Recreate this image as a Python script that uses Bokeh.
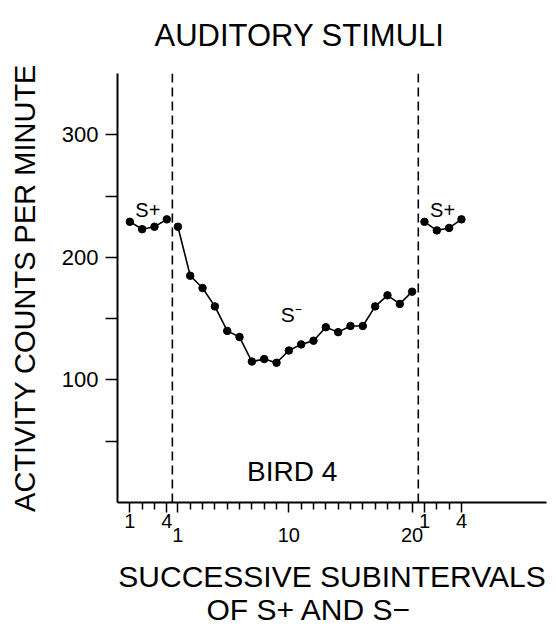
from bokeh.plotting import figure
from bokeh.models import Range1d, FixedTicker, LinearAxis, Title, Span
from bokeh.core.properties import value
from bokeh.embed import file_html
from bokeh.resources import INLINE

FONT = "Liberation Sans"

# ---- data ----
splus_before = [229, 223, 225, 231]
sminus = [225, 185, 175, 160, 140, 135, 115, 117, 114, 124,
          129, 132, 143, 139, 144, 144, 160, 169, 162, 172]
splus_after = [229, 222, 224, 231]
y_major = [100, 200, 300]
y_minor = [50, 150, 250]
splus_labeled = [1, 4]
sminus_labeled = [1, 10, 20]

# ---- layout of the subinterval positions ----
STEP = 10
def positions(start, n):
    return [start + STEP * i for i in range(n)]

x_before = positions(10, len(splus_before))
x_sminus = positions(49, len(sminus))
x_after = positions(249, len(splus_after))
dash_1 = 44.5
dash_2 = 244

p = figure(width=552, height=631, output_backend="svg", toolbar_location=None,
           x_range=Range1d(0, 348), y_range=Range1d(0, 350),
           title=None,
           min_border_left=117, min_border_right=6, min_border_top=73,
           min_border_bottom=129)
p.outline_line_color = None
p.grid.visible = False
p.background_fill_color = "white"
p.border_fill_color = "white"

# spacer between frame and title, then the title itself
spacer = Title(text=" ", text_font_size="1px", standoff=18)
p.add_layout(spacer, "above")
main_title = Title(text="AUDITORY STIMULI", align="left", offset=37,
                   text_font=FONT, text_font_size="31px",
                   text_font_style="normal", text_color="black", standoff=0)
p.add_layout(main_title, "above")

# y axis
ya = p.yaxis[0]
ya.ticker = FixedTicker(ticks=y_major, minor_ticks=y_minor)
ya.axis_line_width = 2
ya.major_tick_out = 12
ya.major_tick_in = 0
ya.minor_tick_out = 12
ya.minor_tick_in = 0
ya.major_tick_line_width = 1.5
ya.minor_tick_line_width = 1.5
ya.major_label_text_font = FONT
ya.major_label_text_font_size = "22px"
ya.major_label_text_color = "black"
ya.major_label_standoff = 7
ya.axis_label = "ACTIVITY COUNTS PER MINUTE"
ya.axis_label_text_font = FONT
ya.axis_label_text_font_size = "29px"
ya.axis_label_text_font_style = "normal"
ya.axis_label_text_color = "black"
ya.axis_label_standoff = 18

# x axis A: all ticks, S+ labels
labeled_pos = ([x_before[k - 1] for k in splus_labeled] +
               [x_sminus[k - 1] for k in sminus_labeled] +
               [x_after[k - 1] for k in splus_labeled])
all_pos = x_before + x_sminus + x_after
minor_pos = [x for x in all_pos if x not in labeled_pos]
overrides_a = {x: "" for x in labeled_pos}
for k in splus_labeled:
    overrides_a[x_before[k - 1]] = str(k)
    overrides_a[x_after[k - 1]] = str(k)

xa = p.xaxis[0]
xa.ticker = FixedTicker(ticks=labeled_pos, minor_ticks=minor_pos)
xa.major_label_overrides = overrides_a
xa.axis_line_width = 2
xa.major_tick_out = 10
xa.major_tick_in = 0
xa.minor_tick_out = 7
xa.minor_tick_in = 0
xa.major_tick_line_width = 1.5
xa.minor_tick_line_width = 1.5
xa.major_label_text_font = FONT
xa.major_label_text_font_size = "20px"
xa.major_label_text_color = "black"
xa.major_label_standoff = 1

# x axis B: S- labels (set slightly lower) and first line of the axis title
sm_ticks = [x_sminus[k - 1] for k in sminus_labeled]
xb = LinearAxis(ticker=FixedTicker(ticks=sm_ticks, minor_ticks=[]),
                major_label_overrides={x_sminus[k - 1]: str(k) for k in sminus_labeled})
xb.axis_line_color = None
xb.major_tick_line_color = None
xb.minor_tick_line_color = None
xb.major_label_text_font = FONT
xb.major_label_text_font_size = "20px"
xb.major_label_text_color = "black"
xb.major_label_standoff = -9
xb.axis_label = "SUCCESSIVE SUBINTERVALS"
xb.axis_label_text_font = FONT
xb.axis_label_text_font_size = "30px"
xb.axis_label_text_font_style = "normal"
xb.axis_label_text_color = "black"
xb.axis_label_standoff = 15
p.add_layout(xb, "below")

t2 = Title(text="OF S+ AND S\u2212", align="left", offset=89, text_font=FONT,
           text_font_size="30px", text_font_style="normal", text_color="black",
           standoff=-10)
p.add_layout(t2, "below")

# dashed separators
for loc in (dash_1, dash_2):
    p.add_layout(Span(location=loc, dimension="height", line_color="black",
                      line_width=1.6, line_dash="9 5"))

# data lines
for xs, ys in ((x_before, splus_before), (x_sminus, sminus), (x_after, splus_after)):
    p.line(xs, ys, line_color="black", line_width=1.6)
    p.scatter(xs, ys, size=7.5, color="black")

# in-plot labels
p.text(x=[24.6, 263.7], y=[239, 239], text=["S+", "S+"], text_font=value(FONT),
       text_font_size="20px", text_align="center", text_baseline="middle",
       text_color="black")
p.text(x=[141], y=[153], text=["S\u207b"], text_font=value(FONT),
       text_font_size="21px", text_align="center", text_baseline="middle",
       text_color="black")
p.text(x=[141.7], y=[25], text=["BIRD 4"], text_font=value(FONT),
       text_font_size="28px", text_align="center", text_baseline="middle",
       text_color="black")

open("out.html", "w").write(file_html(p, INLINE))
